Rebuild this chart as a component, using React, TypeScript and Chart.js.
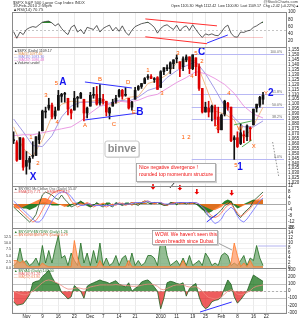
import React, { useEffect, useRef } from "react";
import { Chart, registerables } from "chart.js";

Chart.register(...registerables);

const FONT = "'Liberation Sans', Arial, sans-serif";

// ---------- categories (trading days) ----------
const dates: string[] = [
  "10/27","10/28","10/29","10/30",
  "11/2","11/3","11/4","11/5","11/6","11/9","11/10","11/11","11/12","11/13","11/16","11/17","11/18","11/19","11/20","11/23","11/24","11/25","11/27","11/30",
  "12/1","12/2","12/3","12/4","12/7","12/8","12/9","12/10","12/11","12/14","12/15","12/16","12/17","12/18","12/21","12/22","12/23","12/24","12/28","12/29","12/30","12/31",
  "1/4","1/5","1/6","1/7","1/8","1/11","1/12","1/13","1/14","1/15","1/19","1/20","1/21","1/22","1/25","1/26","1/27","1/28","1/29",
  "2/1","2/2","2/3","2/4","2/5","2/8","2/9","2/10","2/11","2/12","2/16","2/17","2/18","2/19","2/22","2/23","2/24","2/25","2/26",
  "3/1","3/2",
];
const xTickText: Record<string, string> = {
  "11/2": "Nov", "11/9": "9", "11/16": "16", "11/23": "23", "12/1": "Dec", "12/7": "7", "12/14": "14", "12/21": "21",
  "1/4": "2010", "1/11": "11", "1/19": "19", "1/25": "25", "2/1": "Feb", "2/8": "8", "2/16": "16", "2/22": "22",
};

// ---------- price (OHLC) ----------
const open = [1064,1061,1044,1065, 1037,1041,1047,1048,1064, 1073,1092,1096,1099,1088, 1094,1108,1110,1106,1094, 1094,1106,1106,1105,1091, 1098,1109,1110,1101, 1105,1103,1091,1098,1103, 1108,1114,1109,1106,1097, 1105,1115,1118,1121, 1127,1128,1125,1127, 1117,1133,1136,1136,1141, 1146,1143,1138,1145,1148, 1136,1147,1138,1116, 1092,1096,1092,1097,1087, 1074,1090,1101,1097,1064, 1066,1060,1069,1067,1075, 1079,1096,1099,1105];
const high = [1072,1063,1066,1066, 1052,1047,1062,1067,1072, 1094,1097,1106,1101,1097, 1114,1111,1112,1106,1095, 1113,1108,1112,1105,1097, 1112,1117,1118,1120, 1110,1103,1097,1105,1109, 1115,1115,1117,1106,1103, 1117,1119,1121,1127, 1130,1130,1127,1128, 1134,1137,1140,1143,1145, 1150,1143,1148,1150,1148, 1150,1147,1141,1116, 1102,1103,1099,1099,1097, 1090,1104,1102,1097,1068, 1072,1080,1073,1079,1077, 1095,1100,1108,1112];
const low = [1060,1042,1044,1033, 1029,1034,1045,1048,1060, 1073,1086,1094,1085,1085, 1094,1102,1102,1089,1085, 1094,1097,1106,1083,1086, 1098,1106,1099,1099, 1100,1088,1085,1098,1101, 1107,1105,1108,1095,1094, 1105,1114,1116,1121, 1125,1126,1122,1115, 1117,1130,1134,1131,1136, 1142,1128,1134,1143,1131, 1135,1129,1114,1091, 1092,1087,1083,1078,1071, 1074,1088,1094,1062,1044, 1056,1059,1061,1063,1063, 1079,1092,1097,1100];
const close = [1063,1043,1066,1036, 1043,1045,1047,1067,1069, 1093,1093,1099,1087,1093, 1109,1110,1110,1095,1091, 1106,1106,1111,1091,1096, 1109,1109,1100,1106, 1103,1092,1096,1102,1106, 1114,1108,1109,1096,1102, 1114,1118,1121,1126, 1128,1126,1126,1115, 1133,1137,1137,1142,1145, 1147,1136,1146,1148,1136, 1150,1138,1116,1092, 1097,1092,1098,1085,1074, 1089,1103,1097,1063,1066, 1057,1071,1068,1078,1076, 1095,1100,1107,1109];

// moving averages: [day index, value]
const ma5: [number, number][] = [[0,1077],[3,1055],[6,1047],[9,1064],[12,1088],[15,1100],[18,1103],[21,1102],[24,1103],[27,1104],[30,1099],[33,1102],[36,1107],[39,1108],[42,1121],[45,1124],[48,1130],[51,1142],[54,1144],[57,1144],[60,1119],[63,1093],[66,1090],[69,1084],[72,1065],[75,1078],[78,1097]];
const ma10: [number, number][] = [[0,1085],[3,1072],[6,1058],[9,1057],[12,1068],[15,1087],[18,1098],[21,1102],[24,1102],[27,1102],[30,1101],[33,1104],[36,1103],[39,1107],[42,1114],[45,1117],[48,1127],[51,1134],[54,1139],[57,1143],[60,1131],[63,1115],[66,1098],[69,1086],[72,1077],[75,1077],[78,1083]];
const ma20: [number, number][] = [[0,1068],[3,1069],[6,1069],[9,1071],[12,1073],[15,1075],[18,1077],[21,1083],[24,1091],[27,1098],[30,1100],[33,1103],[36,1102],[39,1104],[42,1108],[45,1110],[48,1116],[51,1122],[54,1127],[57,1133],[60,1131],[63,1126],[66,1120],[69,1111],[72,1098],[75,1090],[78,1086]];

// ---------- RSI(14) ----------
const rsi = [46,28,45,38,52,57,60,58,65,72, 74,75,70,62,68,55,45,38,58,64, 45,52,40,58,55,52,63,45,55,60, 64,48,58,47,62,45,36,50,60,64, 68,70,72,66,58,42,55,62,65,58, 52,64,48,58,62,50,65,52,40,30, 40,37,40,36,35,45,58,64,42,32, 31,45,44,48,50,58,62,68,73];

// ---------- breadth oscillator panel ----------
const breadthFast = [-2,-4,-6,-8,-10,-12,-10,-7,0,6, 8,7,6,4,3,6,3,1,-2,-1, 0,2,0,-1,-2,-1,1,-1,-2,0, -1,-2,1,0,-1,0,0,1,0,-1, 1,2,1,0,1,1,0,-1,-1,1, 1,0,1,1,0,1,1,0,-1,-2, -6,-8,-9,-8,-6,-4,-1,0,2,-3, -7,-9,-6,-4,-2,2,4,6,8];
const breadthMid = [0,-2,-4,-6,-8,-10,-12,-11,-8,-4, 0,4,7,8,9,9,8,6,2,0, -2,-1,0,1,0,-2,-1,0,-1,-2, -1,0,-1,1,0,-1,0,1,1,0, 1,2,2,1,0,1,1,0,-1,0, 1,1,0,1,1,0,1,1,0,-2, -4,-6,-8,-9,-8,-6,-3,-1,0,-3, -6,-8,-7,-5,-3,0,2,4,6];
const breadthSlow = [2,0,-2,-4,-6,-8,-10,-12,-12,-10, -6,-2,2,5,7,8,8,7,5,2, 0,-1,-1,0,0,-1,-1,-1,-1,-1, -1,-1,0,0,0,0,0,0,1,1, 1,1,2,1,1,1,1,0,0,0, 0,1,1,1,1,1,1,1,0,-2, -4,-8,-11,-13,-12,-10,-6,-4,-2,-4, -8,-11,-12,-10,-7,-4,-1,2,4];
const breadthHistUp = [0,-1,-2,-3,-3,-4,-3,-2,0,1, 1,0,-1,-1,-1,0,-1,-2,-1,0, 1,2,1,-1,-2,-1,1,0,-1,1, 1,-1,1,0,-1,1,1,-1,0,1, 1,1,0,1,1,0,1,0,-1,1, 1,-1,1,1,0,1,1,0,-2,-4, -5,-6,-5,-3,-2,0,2,3,2,-1, -3,-2,0,1,2,3,2,2,3];
const breadthHistDn = [-2,-3,-3,-2,-1,0,1,2,3,4, 4,3,2,1,0,-1,-2,-1,0,1, 0,1,0,1,-1,0,0,0,1,0, 0,-1,0,0,1,0,0,-1,0,0, 0,1,0,0,1,0,0,-1,0,0, 1,0,0,1,0,0,1,0,0,-1, -2,-3,-4,-4,-3,-2,0,1,1,0, -1,-2,-1,0,1,2,3,3,3];

// ---------- up / down volume panel ----------
const upVolume = [1,2,8,2,3,1,2,4,1,9, 2,7,2,8,13,4,5,1,6,3, 1,10,2,6,1,7,2,10,1,4, 1,2,5,1,4,5,1,6,1,3, 1,2,5,5,4,1,11,12,5,1, 2,3,1,4,1,5,1,2,3,1, 6,4,1,2,1,5,6,5,1,2, 1,3,5,1,4,3,9,4,1];
const downVolume = [3,3,2,3,1,0.5,0.5,0.5,0.5,2, 1,0.5,0.5,0.5,0.5,0.5,0.5,0.5,0.5,11, 4,0.5,0.5,0.5,0.5,0.5,0.5,3,0.5,0.5, 0.5,0.5,0.5,0.5,0.5,0.5,3,0.5,0.5,0.5, 0.5,0.5,0.5,0.5,0.5,0.5,0.5,0.5,0.5,0.5, 0.5,0.5,0.5,3,0.5,0.5,0.5,0.5,0.5,0.5, 0.5,0.5,0.5,0.5,0.5,0.5,0.5,0.5,2,10, 5,0.5,2,0.5,3,0.5,0.5,0.5,0.5];

// ---------- advance/decline panel ----------
const adLine = [-150,-200,-190,-180,-120,-50,120,140,150,210, 250,300,200,120,100,-20,-60,-110,-80,80, 40,0,-100,70,100,120,140,160,140,130, 110,130,150,100,80,60,120,0,40,70, 130,150,160,120,60,0,-250,-100,120,140, 130,110,100,120,-70,40,80,110,-80,-200, -250,-220,-150,-130,-120,-80,50,160,100,-80, -170,-120,-60,0,120,230,200,170,140];
const adSignal = [0,-20,-40,-50,-50,-30,0,40,80,120, 150,160,150,130,110,80,50,30,30,40, 50,40,30,40,60,70,80,90,90,90, 90,90,95,90,85,80,80,70,70,75, 85,95,100,100,90,70,30,20,40,60, 80,90,90,95,70,60,60,65,40,0, -50,-90,-100,-110,-100,-80,-40,0,20,0, -40,-50,-40,-20,10,50,70,80,90];

// ---------- annotations ----------
const fibLevels = [1150.45, 1110.0, 1097.5, 1085.0, 1044.5];
const fibNames = ["100.0%", "61.8%", "50.0%", "38.2%", "0.0%"];
const fibStart = 55.7;

const waveLabels: [string, number, number, string][] = [
  ["X", 6.1, 1026, "b"], ["1", 5.4, 1066, "o"], ["2", 7.6, 1040, "o"], ["3", 10.1, 1109, "o"], ["4", 13.6, 1082, "o"],
  ["5", 13.4, 1121, "o"], ["A", 15.4, 1122, "b"], ["A", 22.3, 1079, "o"], ["B", 27, 1125, "o"], ["C", 31.4, 1080, "o"],
  ["D", 35.8, 1122, "o"], ["E", 37.6, 1092, "o"], ["B", 39.5, 1092, "b"], ["1", 42, 1134, "o"], ["3", 46.4, 1111, "o"],
  ["3", 51.4, 1152, "o"], ["4", 55.8, 1128, "o"], ["5", 57, 1152, "o"], ["C", 58.8, 1153, "b"], ["2", 58.9, 1143, "o"],
  ["3", 63.6, 1076, "o"], ["4", 67.3, 1111, "o"], ["5", 69.5, 1038, "o"], ["1", 70.8, 1036, "b"], ["W", 70.8, 1075, "o"],
  ["X", 75.1, 1057, "o"], ["Y", 78.9, 1111, "o"], ["2", 80.4, 1111, "b"], ["1", 53, 1066, "o"], ["2", 54.8, 1066, "o"],
];

const trendLines: [string, number, number, string, number, number, string, number, number[]][] = [
  ["price", 22.3, 1122.5, "price", 37, 1116.4, "#3030ff", 1, []],
  ["price", 22.3, 1084, "price", 38.9, 1091, "#3030ff", 1, []],
  ["price", 68.9, 1079, "price", 74.5, 1083, "#2a9d2a", 0.8, []],
  ["price", 71.4, 1056.6, "price", 74.5, 1063.7, "#2a9d2a", 0.8, []],
  ["price", 81, 1061.6, "price", 82.9, 1027, "#777777", 0.8, [1.5, 1.5]],
  ["rsi", 41.2, 81, "rsi", 63.6, 62, "#ff3030", 1, []],
  ["rsi", 41.2, 32, "rsi", 60.5, 13, "#ff3030", 1, []],
  ["rsi", 60.5, 15, "rsi", 67, 37, "#3030ff", 1, []],
  ["p3", 60.4, -12, "p3", 63.6, -6.7, "#3030ff", 1, []],
  ["p5", 58.3, -296, "p5", 68.2, -154, "#3030ff", 1, []],
  ["p3", 48.9, 10.7, "price", 52, 1027, "#000000", 0.8, []],
  ["p4", 63.9, 10, "p4", 68.3, 7.2, "#888888", 0.8, []],
  ["p4", 76.5, 8.8, "p4", 85.5, 8.8, "#b4b4f0", 1, []],
];
const downArrows: [number, number][] = [[43.6, 11.3], [52, 10.7], [57.3, 8], [68.2, 7.3]];

const overlay = {
  id: "overlay",
  beforeDatasetsDraw(chart: any) {
    const { ctx, chartArea: ca, scales } = chart;
    const xs = scales.x;
    ctx.save();
    const hline = (s: any, v: number, col: string, dash: number[]) => {
      const y = Math.round(s.getPixelForValue(v)) + 0.5;
      ctx.strokeStyle = col; ctx.lineWidth = 1; ctx.setLineDash(dash);
      ctx.beginPath(); ctx.moveTo(ca.left, y); ctx.lineTo(ca.right, y); ctx.stroke();
    };
    hline(scales.rsi, 50, "#c4c4c4", [2, 2]);
    hline(scales.p3, 0, "#aaaaaa", []);
    hline(scales.p5, 0, "#b0b0b0", [2, 2]);
    ctx.setLineDash([]);
    const fx = xs.getPixelForValue(fibStart);
    ctx.font = `3.5px ${FONT}`; ctx.fillStyle = "#666"; ctx.textAlign = "right"; ctx.textBaseline = "bottom";
    fibLevels.forEach((lv, k) => {
      const y = Math.round(scales.price.getPixelForValue(lv)) + 0.5;
      ctx.strokeStyle = "#b8b8f4"; ctx.lineWidth = 1;
      ctx.beginPath(); ctx.moveTo(fx, y); ctx.lineTo(ca.right - 3, y); ctx.stroke();
      ctx.fillText(fibNames[k], ca.right - 5, y - 0.5);
    });
    ctx.restore();
  },
  afterDatasetsDraw(chart: any) {
    const { ctx, scales } = chart;
    const xs = scales.x;
    ctx.save();
    trendLines.forEach(([a1, i1, v1, a2, i2, v2, col, w, dash]) => {
      ctx.strokeStyle = col; ctx.lineWidth = w; ctx.setLineDash(dash);
      ctx.beginPath();
      ctx.moveTo(xs.getPixelForValue(i1), scales[a1].getPixelForValue(v1));
      ctx.lineTo(xs.getPixelForValue(i2), scales[a2].getPixelForValue(v2));
      ctx.stroke();
    });
    ctx.setLineDash([]);
    downArrows.forEach(([i, v]) => {
      const x = xs.getPixelForValue(i), y = scales.p3.getPixelForValue(v);
      ctx.fillStyle = "#ee0000";
      ctx.fillRect(x - 0.8, y - 3, 1.6, 3);
      ctx.beginPath(); ctx.moveTo(x - 2.3, y); ctx.lineTo(x + 2.3, y); ctx.lineTo(x, y + 2.6); ctx.closePath(); ctx.fill();
    });
    ctx.textAlign = "center"; ctx.textBaseline = "middle";
    waveLabels.forEach(([t, i, v, k]) => {
      if (k === "b") { ctx.font = `bold 10px ${FONT}`; ctx.fillStyle = "#1414ee"; }
      else { ctx.font = `6px ${FONT}`; ctx.fillStyle = "#ff5a00"; }
      ctx.fillText(t, xs.getPixelForValue(i), scales.price.getPixelForValue(v));
    });
    // watermark
    const bx = xs.getPixelForValue(33.9), by = scales.price.getPixelForValue(1054.5);
    ctx.fillStyle = "#d8d8d8";
    ctx.beginPath(); ctx.roundRect(bx - 16, by - 7, 34, 16, 2); ctx.fill();
    ctx.fillStyle = "#ffffff"; ctx.strokeStyle = "#c8c8c8"; ctx.lineWidth = 1;
    ctx.beginPath(); ctx.roundRect(bx - 17, by - 8, 34, 16, 2); ctx.fill(); ctx.stroke();
    ctx.font = `bold 11px ${FONT}`; ctx.fillStyle = "#8c8c8c";
    ctx.fillText("binve", bx, by);
    // note boxes
    const note = (x: number, y: number, w: number, h: number, lines: string[]) => {
      ctx.fillStyle = "#cfcfcf"; ctx.fillRect(x + 1, y + 1, w, h);
      ctx.fillStyle = "#ffffff"; ctx.fillRect(x, y, w, h);
      ctx.strokeStyle = "#9a9a9a"; ctx.lineWidth = 0.8; ctx.strokeRect(x + 0.5, y + 0.5, w - 1, h - 1);
      ctx.font = `5px ${FONT}`; ctx.fillStyle = "#ee1111"; ctx.textAlign = "left"; ctx.textBaseline = "middle";
      lines.forEach((s, k) => ctx.fillText(s, x + 3, y + 5 + k * 6.5));
    };
    note(Math.round(xs.getPixelForValue(38.3)), Math.round(scales.price.getPixelForValue(1040.4)), 80, 19,
      ["Nice negative divergence !", "rounded top momentum structure"]);
    note(Math.round(xs.getPixelForValue(43.3)), Math.round(scales.p4.getPixelForValue(15.2)), 66, 15,
      ["WOW. We haven't seen this", "down breadth since Dubai."]);
    ctx.restore();
  },
  afterDraw(chart: any) {
    const { ctx, chartArea: ca, scales } = chart;
    ctx.save();
    ctx.strokeStyle = "#8a8a8a"; ctx.lineWidth = 1;
    ["rsi", "price", "p3", "p4", "p5"].forEach((id) => {
      const s = scales[id];
      ctx.strokeRect(ca.left + 0.5, Math.round(s.top) + 0.5, ca.right - ca.left - 1, Math.round(s.bottom - s.top));
    });
    const txt = (s: string, x: number, y: number, col: string, size = 4.2, align: CanvasTextAlign = "left") => {
      ctx.font = `${size}px ${FONT}`; ctx.fillStyle = col; ctx.textAlign = align; ctx.textBaseline = "middle";
      ctx.fillText(s, x, y);
    };
    txt("$SPX S&P 500 Large Cap Index INDX", 13, 2.5, "#333");
    txt("19-Feb-2010 2:59pm", 13, 6.3, "#333");
    txt("\u25B2RSI(14) 70.75", 13, 10, "#333");
    txt("@StockCharts.com", 298, 2.3, "#444", 4, "right");
    txt("Open 1105.30  High 1112.42  Low 1100.80  Last 1109.17  Chg +2.42 (+0.22%)\u25B2", 299, 6, "#222", 3.6, "right");
    const pt = scales.price.top;
    txt("\u25B2$SPX (Daily) 1109.17", 14, pt + 4, "#333", 3.6);
    txt("\u2014 MA(5) 1097.40", 14, pt + 7, "#e09050", 3.6);
    txt("\u2014 MA(10) 1083.30", 14, pt + 10, "#8a80e0", 3.6);
    txt("\u2014 MA(20) 1086.48", 14, pt + 13, "#e070d0", 3.6);
    txt("\u25B2Volume undef", 14, pt + 16, "#333", 3.6);
    const t3 = scales.p3.top;
    txt("\u25B2 $NYMO McClellan Osc (Daily) 55.47", 14, t3 + 3, "#555", 3.6);
    txt("\u2014 EMA(19) 7.71  \u2014 EMA(39) 4.19", 14, t3 + 6, "#e05050", 3.6);
    const t4 = scales.p4.top;
    txt("\u25B2 $NYUPV:$NYDNV (Daily) 1.26", 14, t4 + 4, "#2a7a2a", 3.6);
    txt("\u2014 $NYDNV:$NYUPV (Daily) 0.79", 14, t4 + 7, "#e06030", 3.6);
    const t5 = scales.p5.top;
    txt("\u25B2 $NYAD (Daily) 142.00", 14, t5 + 3, "#2a7a2a", 3.6);
    txt("\u2014 MA(10) 91.20", 14, t5 + 6, "#e05050", 3.6);
    txt("\u2014 MA(20) 63.80", 14, t5 + 9, "#f08a60", 3.6);
    // left-hand labels of the volume-ratio panel
    [0, 2.5, 5, 7.5, 10, 12.5].forEach((v) => txt(v.toFixed(1), 11, scales.p4.getPixelForValue(v), "#333", 3.6, "right"));
    ctx.restore();
  },
};

export default function App() {
  const ref = useRef<HTMLCanvasElement>(null);
  useEffect(() => {
    const canvas = ref.current;
    if (!canvas) return;
    const candleCol = close.map((c, i) => (i > 0 && c < close[i - 1] ? "#dd0000" : "#111111"));
    const pts = (arr: [number, number][]) => arr.map(([i, v]) => ({ x: dates[i], y: v }));
    const ln = (data: any, axis: string, color: string, w: number, order: number, extra: any = {}) => ({
      type: "line", data, yAxisID: axis, borderColor: color, borderWidth: w, pointRadius: 0, fill: false, order, ...extra,
    });
    const yAxis = (weight: number, min: number, max: number, step: number, gridColor: any = "#e6e6e6") => ({
      type: "linear", position: "right", stack: "panels", stackWeight: weight, min, max,
      ticks: { stepSize: step, autoSkip: false, includeBounds: false, font: { size: 4.5, family: FONT }, color: "#222", padding: 1 },
      grid: { color: gridColor, lineWidth: 0.6, drawTicks: false },
      border: { display: false },
      afterFit: (s: any) => { s.width = 14; },
    });

    const chart = new Chart(canvas, {
      type: "bar",
      data: {
        labels: dates,
        datasets: [
          // RSI
          ln(rsi, "rsi", "#333333", 0.8, 1, { fill: { target: { value: 70 }, above: "#2e8b2e", below: "rgba(0,0,0,0)" } }),
          ln(rsi, "rsi", "rgba(0,0,0,0)", 0, 2, { fill: { target: { value: 30 }, above: "rgba(0,0,0,0)", below: "#dd2222" } }),
          // price
          ln(pts(ma20), "price", "#e890e0", 0.9, 6),
          ln(pts(ma10), "price", "#9a90e4", 0.9, 6),
          ln(pts(ma5), "price", "#f2b27a", 0.9, 6),
          { type: "bar", data: low.map((l, i) => [l, high[i]]), yAxisID: "price", backgroundColor: candleCol, barThickness: 1, grouped: false, order: 3 },
          { type: "bar", data: open.map((o, i) => [Math.min(o, close[i]), Math.max(o, close[i])]), yAxisID: "price", backgroundColor: candleCol, barThickness: 2, minBarLength: 1, grouped: false, order: 2 },
          // breadth oscillator
          ln(breadthHistUp, "p3", "rgba(0,0,0,0)", 0, 9, { fill: "origin", backgroundColor: "rgba(20,115,20,0.9)" }),
          ln(breadthHistDn, "p3", "rgba(0,0,0,0)", 0, 8, { fill: "origin", backgroundColor: "rgba(255,110,30,0.85)" }),
          ln(breadthSlow, "p3", "#6a6aff", 0.8, 1),
          ln(breadthMid, "p3", "#ff6a4a", 0.8, 1),
          ln(breadthFast, "p3", "#1d4f1d", 0.8, 1),
          // up / down volume
          ln(upVolume, "p4", "#1e6b1e", 0.8, 5, { fill: "origin", backgroundColor: "rgba(90,155,90,0.65)" }),
          ln(downVolume, "p4", "#ff7a2a", 0.8, 4, { fill: "origin", backgroundColor: "rgba(255,150,95,0.7)" }),
          // A/D
          ln(adLine, "p5", "#1e5e1e", 0.8, 5, { fill: { target: "origin", above: "rgba(40,125,40,0.8)", below: "rgba(235,65,65,0.85)" } }),
          ln(adSignal, "p5", "#f08a80", 0.8, 1),
        ] as any,
      },
      options: {
        responsive: false,
        devicePixelRatio: 1,
        animation: false,
        layout: { padding: { top: 12, left: 12, right: 0, bottom: 0 } },
        plugins: { legend: { display: false }, tooltip: { enabled: false } },
        scales: {
          x: {
            type: "category",
            offset: true,
            grid: {
              offset: false, lineWidth: 0.6, drawTicks: false,
              color: (c: any) => (xTickText[dates[c.index]] ? "#dcdcdc" : "rgba(0,0,0,0)"),
            },
            ticks: {
              autoSkip: false, maxRotation: 0, minRotation: 0, padding: 1,
              font: { size: 4.5, family: FONT }, color: "#222",
              callback: (_v: any, i: number) => xTickText[dates[i]] || "",
            },
            border: { display: false },
            afterFit: (s: any) => { s.height = 7; },
          },
          rsi: yAxis(35, 4, 100, 20, (c: any) => (c.tick && (c.tick.value === 70 || c.tick.value === 30) ? "#9a9a9a" : "rgba(0,0,0,0)")),
          price: yAxis(139, 1017, 1158, 5, (c: any) => (c.tick && c.tick.value % 10 === 0 ? "#ececec" : "rgba(0,0,0,0)")),
          p3: yAxis(42, -16, 12, 4),
          p4: yAxis(40, 0, 16, 2),
          p5: yAxis(45, -310, 330, 100, (c: any) => (c.tick && Math.abs(c.tick.value) === 100 ? "#9a9a9a" : "#eeeeee")),
        } as any,
      },
      plugins: [overlay],
    } as any);
    return () => chart.destroy();
  }, []);

  return (
    <div style={{ position: "fixed", left: 0, top: 0, width: 301, height: 320, background: "#fff" }}>
      <canvas ref={ref} width={301} height={320} style={{ display: "block" }} />
    </div>
  );
}
